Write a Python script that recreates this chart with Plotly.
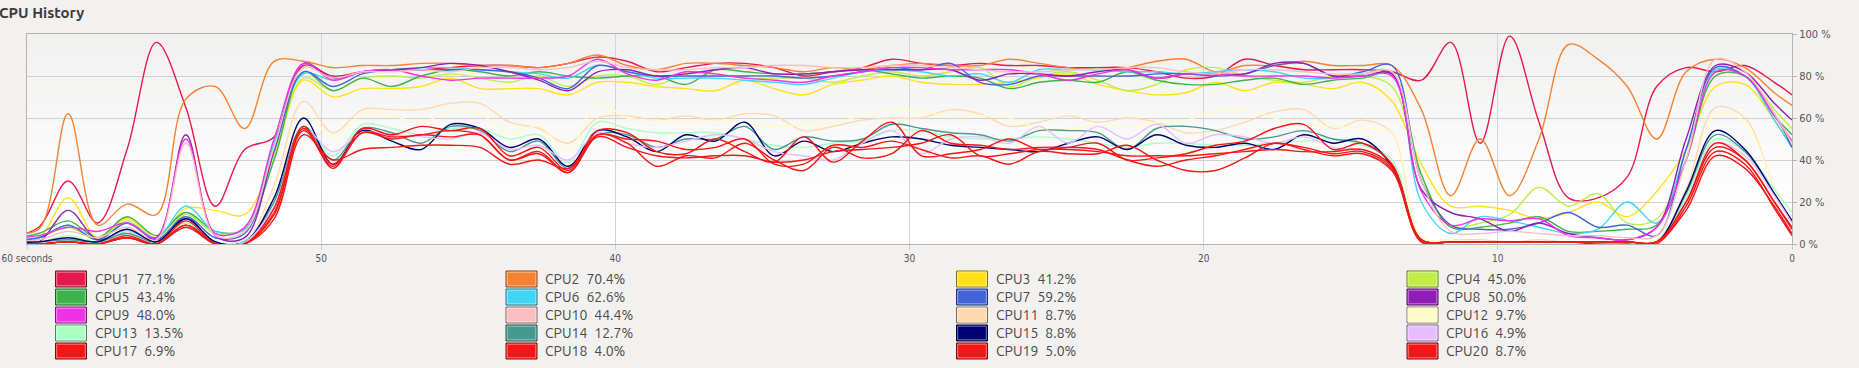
import plotly.graph_objects as go

# ---------------- data ----------------
# sample positions (seconds ago)
T = [60.6, 59.6, 58.6, 57.6, 56.6, 55.6, 54.6, 53.6, 52.6, 51.6, 50.6, 49.6, 48.6, 47.6, 46.6, 45.6,
     44.6, 43.6, 42.6, 41.6, 40.6, 39.6, 38.6, 37.6, 36.6, 35.6, 34.6, 33.6, 32.6, 31.6, 30.6,
     29.6, 28.6, 27.6, 26.6, 25.6, 24.6, 23.6, 22.6, 21.6, 20.6, 19.6, 18.6, 17.6, 16.6, 15.6,
     14.6, 13.6, 12.6, 11.6, 10.6, 9.6, 8.6, 7.6, 6.6, 5.6, 4.6, 3.6, 2.6, 1.6, 0.6, 0.0]

CPU1 = [3, 8, 30, 10, 45, 96, 65, 18, 45, 51, 85, 80, 82, 83, 83, 84,
        85, 85, 84, 86, 89, 87, 82, 84, 86, 86, 84, 80, 82, 84, 88,
        86, 85, 86, 85, 85, 84, 84, 84, 82, 79, 80, 88, 85, 83, 83,
        83, 82, 78, 96, 48, 99, 58, 22, 22, 32, 75, 84, 82, 85, 77, 71]
CPU2 = [6, 7, 62, 9, 19, 14, 69, 75, 55, 87, 87, 84, 85, 85, 86, 86,
        85, 85, 84, 86, 90, 85, 83, 86, 86, 85, 84, 82, 84, 83, 85,
        86, 85, 85, 88, 86, 84, 83, 84, 87, 88, 82, 85, 85, 87, 85,
        85, 85, 64, 23, 50, 23, 50, 95, 88, 75, 50, 82, 88, 84, 72, 66]
CPU3 = [2, 3, 22, 3, 12, 3, 17, 16, 14, 42, 78, 70, 74, 74, 75, 79,
        74, 74, 74, 71, 77, 77, 75, 74, 73, 78, 74, 71, 76, 78, 80,
        77, 76, 76, 77, 79, 81, 76, 73, 71, 72, 77, 73, 77, 76, 74,
        77, 68, 38, 18, 18, 16, 12, 15, 20, 13, 25, 45, 75, 76, 59, 46]
CPU4 = [2, 3, 8, 2, 11, 2, 14, 5, 7, 42, 79, 73, 79, 80, 79, 81,
        79, 77, 80, 75, 80, 80, 76, 81, 81, 79, 79, 79, 77, 80, 82,
        80, 82, 84, 75, 80, 82, 78, 73, 76, 83, 84, 80, 78, 77, 80,
        80, 75, 33, 8, 10, 14, 27, 18, 24, 10, 12, 40, 80, 80, 64, 55]
CPU5 = [3, 5, 11, 3, 13, 4, 15, 6, 7, 40, 82, 73, 79, 75, 80, 83,
        82, 80, 82, 80, 79, 80, 80, 76, 83, 82, 81, 81, 82, 83, 81,
        79, 80, 79, 74, 77, 78, 77, 82, 78, 76, 76, 78, 79, 76, 78,
        79, 81, 33, 8, 8, 10, 13, 6, 6, 7, 9, 40, 80, 80, 61, 52]
CPU6 = [2, 3, 9, 2, 10, 3, 18, 6, 7, 48, 81, 78, 82, 83, 84, 84,
        83, 82, 81, 79, 85, 82, 79, 79, 79, 78, 77, 76, 79, 82, 83,
        82, 80, 81, 77, 83, 83, 83, 82, 82, 81, 82, 83, 82, 79, 79,
        81, 82, 20, 5, 13, 11, 8, 5, 7, 20, 10, 45, 83, 80, 59, 46]
CPU7 = [2, 3, 9, 2, 10, 2, 13, 3, 5, 44, 82, 75, 81, 83, 83, 83,
        83, 82, 79, 74, 85, 82, 80, 80, 80, 80, 80, 79, 80, 82, 84,
        83, 86, 77, 76, 80, 80, 80, 80, 81, 81, 80, 81, 85, 86, 80,
        82, 85, 30, 9, 7, 7, 10, 15, 8, 9, 4, 45, 84, 80, 62, 46]
CPU8 = [1, 1, 16, 2, 6, 3, 52, 4, 3, 45, 86, 79, 82, 83, 84, 86,
        85, 82, 78, 73, 82, 83, 80, 81, 83, 84, 81, 81, 82, 83, 83,
        83, 83, 78, 81, 81, 80, 82, 83, 79, 81, 81, 81, 86, 86, 80,
        80, 81, 26, 15, 12, 6, 10, 5, 3, 2, 8, 50, 85, 82, 67, 59]
CPU9 = [3, 4, 8, 6, 10, 3, 50, 5, 8, 50, 86, 78, 82, 83, 80, 78,
        79, 79, 79, 80, 88, 81, 78, 82, 81, 79, 78, 77, 80, 82, 84,
        84, 83, 83, 83, 81, 78, 81, 83, 79, 81, 81, 80, 80, 80, 79,
        80, 80, 25, 9, 12, 11, 12, 4, 3, 2, 8, 40, 82, 80, 61, 49]
CPU10 = [1, 2, 6, 3, 8, 2, 48, 4, 6, 46, 84, 79, 82, 82, 83, 82,
         84, 84, 83, 84, 87, 84, 83, 83, 84, 84, 85, 85, 84, 84, 85,
         85, 84, 83, 82, 82, 83, 83, 84, 84, 82, 81, 83, 83, 82, 81,
         81, 82, 30, 6, 5, 6, 5, 4, 4, 3, 4, 40, 88, 82, 62, 48]
CPU11 = [1, 1, 2, 1, 4, 1, 10, 1, 1, 28, 68, 53, 64, 64, 64, 67,
         67, 58, 55, 48, 60, 61, 59, 61, 59, 62, 61, 54, 56, 59, 60,
         60, 64, 62, 56, 58, 61, 58, 60, 58, 53, 54, 58, 63, 64, 55,
         59, 53, 3, 2, 2, 1, 2, 1, 1, 1, 2, 26, 65, 60, 27, 11]
CPU12 = [1, 1, 3, 1, 3, 1, 8, 1, 1, 25, 62, 51, 62, 61, 58, 63,
         62, 53, 56, 45, 67, 60, 59, 58, 59, 58, 56, 57, 58, 61, 64,
         63, 61, 61, 60, 55, 55, 56, 56, 58, 59, 63, 64, 60, 57, 56,
         55, 53, 3, 2, 1, 1, 1, 1, 1, 1, 2, 24, 62, 58, 27, 11]
CPU13 = [1, 1, 4, 1, 6, 1, 10, 1, 2, 20, 56, 42, 57, 55, 52, 55,
         55, 50, 52, 39, 58, 55, 53, 53, 53, 50, 47, 46, 48, 49, 54,
         54, 51, 50, 50, 51, 50, 48, 46, 48, 48, 47, 47, 48, 49, 50,
         47, 40, 2, 1, 1, 1, 1, 1, 1, 1, 1, 22, 50, 44, 26, 15]
CPU14 = [1, 1, 2, 1, 5, 1, 12, 1, 1, 20, 56, 40, 55, 53, 48, 56,
         54, 44, 49, 36, 52, 52, 46, 50, 50, 56, 45, 51, 49, 50, 57,
         55, 53, 52, 49, 54, 54, 53, 45, 55, 56, 54, 50, 51, 54, 50,
         48, 38, 2, 1, 1, 1, 1, 1, 1, 1, 1, 24, 52, 44, 24, 11]
CPU15 = [1, 1, 3, 1, 7, 1, 12, 1, 1, 22, 60, 38, 54, 49, 45, 57,
         55, 46, 50, 37, 54, 51, 44, 52, 49, 58, 42, 49, 44, 48, 51,
         50, 47, 46, 45, 44, 48, 51, 45, 52, 47, 46, 48, 45, 52, 48,
         50, 37, 2, 1, 1, 1, 1, 1, 1, 1, 1, 25, 54, 45, 24, 11]
CPU16 = [0, 0, 1, 0, 4, 0, 8, 0, 1, 18, 55, 44, 53, 52, 51, 50,
         53, 45, 47, 40, 53, 48, 46, 49, 52, 50, 44, 42, 40, 48, 54,
         43, 50, 51, 48, 56, 48, 56, 50, 57, 48, 52, 51, 48, 51, 46,
         44, 35, 2, 1, 1, 1, 1, 1, 1, 1, 1, 18, 48, 42, 23, 10]
CPU17 = [0, 0, 1, 0, 4, 0, 11, 0, 0, 17, 56, 36, 55, 52, 56, 54,
         55, 42, 46, 35, 54, 53, 44, 43, 50, 44, 39, 51, 39, 49, 58,
         42, 43, 45, 50, 45, 46, 48, 40, 41, 43, 47, 49, 55, 57, 45,
         48, 38, 2, 1, 1, 1, 1, 1, 1, 1, 1, 20, 46, 40, 20, 7]
CPU18 = [0, 0, 1, 0, 3, 0, 9, 0, 0, 15, 54, 37, 53, 51, 52, 54,
         52, 40, 44, 34, 52, 48, 37, 42, 41, 48, 40, 35, 46, 41, 43,
         54, 48, 47, 45, 46, 46, 45, 40, 37, 40, 42, 45, 48, 46, 43,
         44, 36, 1, 1, 1, 1, 1, 1, 0, 0, 0, 18, 44, 38, 17, 4]
CPU19 = [0, 0, 1, 0, 3, 0, 8, 0, 0, 12, 52, 40, 45, 46, 47, 47,
         46, 38, 40, 36, 52, 50, 49, 45, 46, 50, 38, 38, 47, 46, 49,
         45, 41, 42, 38, 44, 43, 43, 47, 40, 35, 35, 41, 48, 45, 42,
         43, 35, 1, 1, 1, 1, 1, 1, 1, 1, 1, 16, 42, 36, 18, 5]
CPU20 = [0, 0, 1, 0, 3, 0, 9, 0, 0, 14, 55, 38, 53, 50, 52, 51,
         52, 40, 43, 34, 51, 46, 42, 41, 42, 42, 39, 40, 44, 45, 46,
         48, 52, 42, 43, 45, 45, 44, 42, 42, 42, 43, 44, 45, 44, 44,
         45, 37, 2, 1, 1, 1, 1, 1, 1, 1, 1, 20, 48, 40, 20, 8]

SERIES = [CPU1, CPU2, CPU3, CPU4, CPU5, CPU6, CPU7, CPU8, CPU9, CPU10,
          CPU11, CPU12, CPU13, CPU14, CPU15, CPU16, CPU17, CPU18, CPU19, CPU20]
NAMES = ["CPU%d" % (i + 1) for i in range(20)]
LEGEND_PCT = ["77.1%", "70.4%", "41.2%", "45.0%", "43.4%", "62.6%", "59.2%", "50.0%",
              "48.0%", "44.4%", "8.7%", "9.7%", "13.5%", "12.7%", "8.8%", "4.9%",
              "6.9%", "4.0%", "5.0%", "8.7%"]
COLORS = ["#e6194b", "#f58231", "#ffe119", "#bfef45", "#3cb44b", "#42d4f4", "#4363d8",
          "#911eb4", "#f032e6", "#fabebe", "#ffd8b1", "#fffac8", "#aaffc3", "#469990",
          "#000075", "#e6beff", "#f41616", "#f41616", "#f41616", "#f41616"]

X_TICKS = [60, 50, 40, 30, 20, 10, 0]
X_TICKTEXT = ["60 seconds", "50", "40", "30", "20", "10", "0"]
Y_TICKS = [0, 20, 40, 60, 80, 100]
Y_TICKTEXT = ["0 %", "20 %", "40 %", "60 %", "80 %", "100 %"]

# ---------------- layout helpers ----------------
W, H = 1859, 368
PL, PR, PT, PB = 27, 1792, 34, 244


def px(x):
    return (x - PL) / (PR - PL)


def py(y):
    return (PB - y) / (PB - PT)


def rgb(hexc):
    return int(hexc[1:3], 16), int(hexc[3:5], 16), int(hexc[5:7], 16)


def darker(hexc, f=0.5):
    r, g, b = rgb(hexc)
    return "rgb(%d,%d,%d)" % (r * f, g * f, b * f)


def lighter(hexc, f=0.45):
    r, g, b = rgb(hexc)
    return "rgb(%d,%d,%d)" % (r + (255 - r) * f, g + (255 - g) * f, b + (255 - b) * f)


fig = go.Figure()
for name, vals, col in zip(NAMES, SERIES, COLORS):
    fig.add_trace(go.Scatter(x=T, y=vals, mode="lines", name=name,
                             line=dict(color=col, width=1.4, shape="spline", smoothing=1.0),
                             hoverinfo="skip", showlegend=False))

shapes = []
# background gradient (light grey at top to white near bottom)
nb = 40
for i in range(nb):
    y0 = 15 + (100 - 15) * i / nb
    y1 = 15 + (100 - 15) * (i + 1) / nb
    f = (i + 0.5) / nb
    r = round(255 - (255 - 241) * f)
    g = round(255 - (255 - 240) * f)
    b = round(255 - (255 - 239) * f)
    shapes.append(dict(type="rect", xref="paper", yref="y", x0=0, x1=1, y0=y0, y1=y1 + 0.01,
                       fillcolor="rgb(%d,%d,%d)" % (r, g, b), line=dict(width=0), layer="below"))

annotations = [dict(text="<b>CPU History</b>", xref="paper", yref="paper",
                    x=px(-3), y=py(12.5), xanchor="left", yanchor="middle", showarrow=False,
                    font=dict(family="Ubuntu, Noto Sans, sans-serif", size=15, color="#3c3c3c"))]

# custom legend: 4 columns x 5 rows
COL_X = [55.5, 506, 956.5, 1407]
for i, (name, pct, col) in enumerate(zip(NAMES, LEGEND_PCT, COLORS)):
    row, c = divmod(i, 4)
    cy = 279 + row * 18
    x0 = COL_X[c]
    shapes.append(dict(type="rect", xref="paper", yref="paper",
                       x0=px(x0), x1=px(x0 + 31), y0=py(cy - 8), y1=py(cy + 8),
                       fillcolor=col, line=dict(color=darker(col), width=1), layer="above"))
    shapes.append(dict(type="rect", xref="paper", yref="paper",
                       x0=px(x0 + 1.2), x1=px(x0 + 29.8), y0=py(cy - 6.8), y1=py(cy + 6.8),
                       fillcolor="rgba(0,0,0,0)", line=dict(color=lighter(col), width=1), layer="above"))
    annotations.append(dict(text=name + "\u2002" + pct, xref="paper", yref="paper",
                            x=px(x0 + 37), y=py(cy), xanchor="left", yanchor="middle",
                            showarrow=False,
                            font=dict(family="Ubuntu, Noto Sans, sans-serif", size=14, color="#4a4a4a")))

fig.update_layout(
    width=W, height=H,
    margin=dict(l=PL, r=W - PR, t=PT, b=H - PB, pad=0),
    paper_bgcolor="#f2f1f0", plot_bgcolor="#ffffff",
    showlegend=False, hovermode=False,
    shapes=shapes, annotations=annotations,
    xaxis=dict(range=[60, 0], tickvals=X_TICKS, ticktext=X_TICKTEXT,
               showgrid=True, gridcolor="#d4d4d4", gridwidth=1, zeroline=False,
               showline=True, mirror=True, linecolor="#b4b4b4", linewidth=1,
               ticks="outside", ticklen=5, tickcolor="#cfcfcf",
               tickfont=dict(family="Ubuntu Condensed, Liberation Sans Narrow, DejaVu Sans Condensed, Liberation Sans, sans-serif",
                             size=10, color="#555555"),
               fixedrange=True, automargin=False),
    yaxis=dict(range=[0, 100], side="right", tickvals=Y_TICKS, ticktext=Y_TICKTEXT,
               showgrid=True, gridcolor="#d0d0d0", gridwidth=1, zeroline=False,
               showline=True, mirror=True, linecolor="#b4b4b4", linewidth=1,
               ticks="outside", ticklen=4, tickcolor="#b4b4b4",
               tickfont=dict(family="Ubuntu Condensed, Liberation Sans Narrow, DejaVu Sans Condensed, Liberation Sans, sans-serif",
                             size=11, color="#555555"),
               fixedrange=True, automargin=False),
)

fig.write_html("out.html", config={"displayModeBar": False},
               post_script="document.body.style.margin='0';document.body.style.overflow='hidden';document.body.style.background='#f2f1f0';")
